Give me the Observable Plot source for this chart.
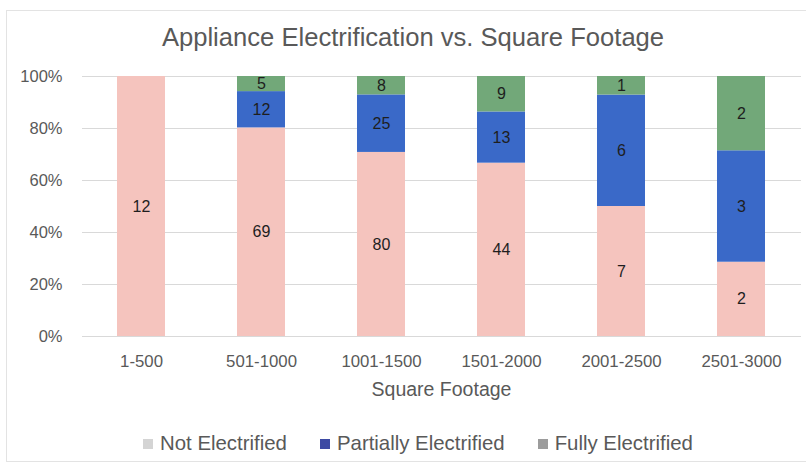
<!DOCTYPE html>
<html>
<head>
<meta charset="utf-8">
<script src="https://cdn.jsdelivr.net/npm/d3@7"></script>
<script src="https://cdn.jsdelivr.net/npm/@observablehq/plot@0.6"></script>
<style>
  html, body { margin: 0; padding: 0; background: #fff; }
  #wrap { position: relative; width: 806px; height: 468px; overflow: hidden; font-family: "Liberation Sans", Arial, sans-serif; }
  #border { position: absolute; left: 6px; top: 10px; width: 810px; height: 452px; border: 1px solid #e3e3e3; box-sizing: border-box; }
  #title { position: absolute; left: 0; top: 25px; width: 826px; text-align: center; font-size: 25.6px; line-height: 25px; color: #595959; }
  #chart { position: absolute; left: 0; top: 60px; }
  #xtitle { position: absolute; left: 0; top: 380px; width: 883px; text-align: center; font-size: 19.5px; line-height: 19.5px; color: #595959; }
  #legend { position: absolute; left: 143px; top: 433px; display: flex; align-items: center; font-size: 20.4px; line-height: 20px; color: #595959; }
  .item { display: flex; align-items: center; margin-right: 33px; }
  .sw { width: 10px; height: 10px; margin-right: 7px; margin-top: 2px; }
</style>
</head>
<body>
<div id="wrap">
  <div id="border"></div>
  <div id="title">Appliance Electrification vs. Square Footage</div>
  <div id="chart"></div>
  <div id="xtitle">Square Footage</div>
  <div id="legend"></div>
</div>
<script>
const categories = ["1-500", "501-1000", "1001-1500", "1501-2000", "2001-2500", "2501-3000"];
const series = ["Not Electrified", "Partially Electrified", "Fully Electrified"];
const notElectrified = [12, 69, 80, 44, 7, 2];
const partiallyElectrified = [0, 12, 25, 13, 6, 3];
const fullyElectrified = [0, 5, 8, 9, 1, 2];
const yTicks = [0, 0.2, 0.4, 0.6, 0.8, 1];
const barColors = ["#f5c4be", "#3a69c8", "#72a879"];
const legendColors = ["#d4d4d4", "#3d4aa3", "#9c9c9c"];

const valuesBySeries = [notElectrified, partiallyElectrified, fullyElectrified];
const data = [];
series.forEach((s, si) => {
  categories.forEach((c, ci) => {
    data.push({category: c, series: s, value: valuesBySeries[si][ci]});
  });
});

const chart = Plot.plot({
  width: 806,
  height: 316,
  marginLeft: 82,
  marginRight: 5,
  marginTop: 16,
  marginBottom: 40,
  style: {fontFamily: "'Liberation Sans', Arial, sans-serif", fontSize: "16.5px", color: "#595959", background: "transparent"},
  x: {domain: categories, paddingInner: 0.597, paddingOuter: 0.284, label: null},
  y: {domain: [0, 1], label: null},
  color: {domain: series, range: barColors},
  marks: [
    Plot.ruleY(yTicks, {stroke: "#d9d9d9", strokeWidth: 1.2}),
    Plot.barY(data, {x: "category", y: "value", fill: "series", z: "series", order: series, offset: "normalize"}),
    Plot.text(data, Plot.stackY({
      x: "category", y: "value", z: "series", order: series, offset: "normalize",
      filter: d => d.value > 0,
      text: d => String(d.value),
      fill: "#1e1e1e", fontSize: 16
    })),
    Plot.axisX({tickSize: 0, tickPadding: 19, label: null, fontSize: 16.8}),
    Plot.axisY({ticks: yTicks, tickSize: 0, tickPadding: 20, label: null, fontSize: 16.5, tickFormat: d => Math.round(d * 100) + "%"})
  ]
});
document.getElementById("chart").appendChild(chart);

const legend = document.getElementById("legend");
series.forEach((s, i) => {
  const item = document.createElement("div");
  item.className = "item";
  const sw = document.createElement("span");
  sw.className = "sw";
  sw.style.background = legendColors[i];
  const label = document.createElement("span");
  label.textContent = s;
  item.appendChild(sw);
  item.appendChild(label);
  legend.appendChild(item);
});
</script>
</body>
</html>
